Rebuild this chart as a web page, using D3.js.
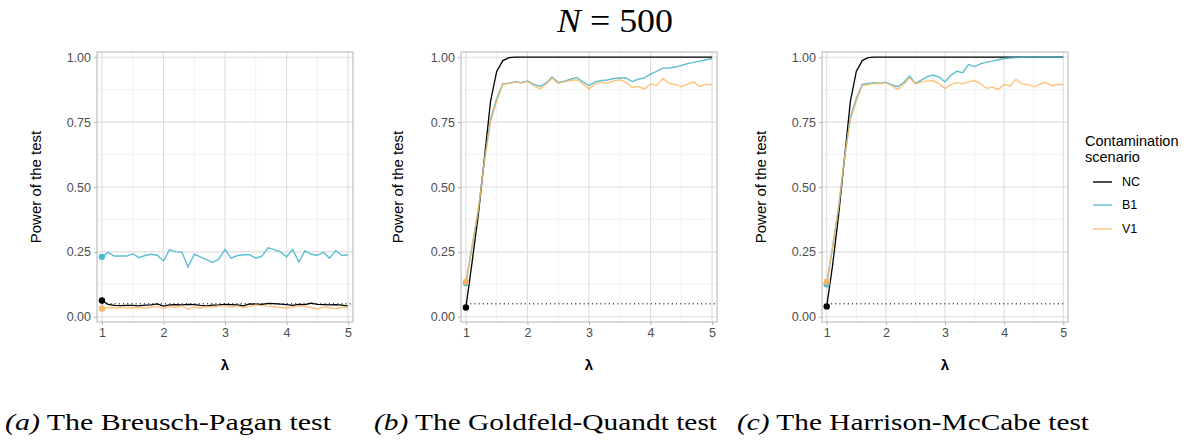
<!DOCTYPE html>
<html>
<head>
<meta charset="utf-8">
<script src="https://cdn.jsdelivr.net/npm/d3@7"></script>
<style>
  body { margin: 0; background: #fff; }
  svg { display: block; }
</style>
</head>
<body>
<div id="chart"></div>
<script>
// lambda grid
var lambda = [1.0,1.1,1.2,1.3,1.4,1.5,1.6,1.7,1.8,1.9,2.0,2.1,2.2,2.3,2.4,2.5,2.6,2.7,2.8,2.9,3.0,
              3.1,3.2,3.3,3.4,3.5,3.6,3.7,3.8,3.9,4.0,4.1,4.2,4.3,4.4,4.5,4.6,4.7,4.8,4.9,5.0];

var scenarios = ["NC", "B1", "V1"];
var xTicks = [1, 2, 3, 4, 5];
var yTicks = [0, 0.25, 0.5, 0.75, 1];
var alpha = 0.05;

// (a) Breusch-Pagan
var bpNC = [0.063,0.048,0.044,0.043,0.044,0.044,0.042,0.045,0.046,0.050,0.041,0.046,0.047,0.046,0.048,0.047,0.044,0.042,0.045,0.046,
            0.048,0.047,0.046,0.042,0.050,0.049,0.048,0.052,0.051,0.049,0.047,0.044,0.048,0.047,0.053,0.048,0.047,0.046,0.047,0.045,0.041];
var bpB1 = [0.231,0.248,0.234,0.234,0.234,0.243,0.228,0.236,0.241,0.237,0.215,0.259,0.250,0.249,0.192,0.241,0.231,0.220,0.209,0.223,
            0.259,0.226,0.236,0.239,0.239,0.226,0.234,0.266,0.259,0.250,0.231,0.259,0.211,0.254,0.241,0.237,0.248,0.226,0.255,0.236,0.239];
var bpV1 = [0.032,0.036,0.035,0.035,0.036,0.035,0.036,0.034,0.037,0.040,0.031,0.040,0.036,0.042,0.030,0.038,0.033,0.040,0.038,0.041,
            0.043,0.037,0.042,0.035,0.040,0.046,0.043,0.041,0.039,0.036,0.033,0.038,0.042,0.040,0.036,0.030,0.038,0.035,0.031,0.037,0.038];

// (b) Goldfeld-Quandt
var gqNC = [0.036,0.21,0.39,0.61,0.83,0.945,0.987,0.998,1,1,1,1,1,1,1,1,1,1,1,1,
            1,1,1,1,1,1,1,1,1,1,1,1,1,1,1,1,1,1,1,1,1];
var gqB1 = [0.13,0.27,0.41,0.60,0.76,0.84,0.898,0.900,0.906,0.902,0.908,0.895,0.888,0.900,0.924,0.902,0.908,0.915,0.922,0.905,
            0.890,0.905,0.910,0.912,0.918,0.920,0.920,0.906,0.915,0.920,0.935,0.945,0.958,0.958,0.962,0.968,0.975,0.980,0.985,0.990,0.995];
var gqV1 = [0.135,0.27,0.41,0.60,0.752,0.83,0.896,0.898,0.904,0.900,0.907,0.891,0.878,0.896,0.919,0.900,0.905,0.910,0.913,0.896,
            0.878,0.896,0.904,0.900,0.909,0.913,0.904,0.884,0.887,0.878,0.897,0.891,0.918,0.900,0.895,0.886,0.896,0.905,0.887,0.895,0.895];

// (c) Harrison-McCabe
var hmNC = [0.04,0.20,0.39,0.61,0.83,0.945,0.987,0.998,1,1,1,1,1,1,1,1,1,1,1,1,
            1,1,1,1,1,1,1,1,1,1,1,1,1,1,1,1,1,1,1,1,1];
var hmB1 = [0.125,0.27,0.42,0.61,0.77,0.84,0.895,0.899,0.902,0.900,0.904,0.893,0.886,0.902,0.927,0.899,0.912,0.925,0.931,0.923,
            0.905,0.930,0.946,0.940,0.972,0.964,0.974,0.981,0.985,0.990,0.995,0.997,0.999,1,1,1,1,1,1,1,1];
var hmV1 = [0.135,0.27,0.42,0.61,0.76,0.83,0.891,0.894,0.899,0.898,0.902,0.889,0.876,0.895,0.921,0.898,0.905,0.908,0.910,0.898,
            0.879,0.895,0.902,0.898,0.905,0.910,0.898,0.880,0.885,0.876,0.895,0.889,0.914,0.898,0.895,0.885,0.895,0.903,0.890,0.895,0.895];

var captions = ["The Breusch-Pagan test", "The Goldfeld-Quandt test", "The Harrison-McCabe test"];
var captionTags = ["(a)", "(b)", "(c)"];

var colors = { NC: "#000000", B1: "#3fb3c8", V1: "#fdb45c" };
var opac = { NC: 1, B1: 0.85, V1: 0.8 };

var W = 1196, H = 441;
var svg = d3.select('#chart').append('svg')
  .attr('width', W).attr('height', H)
  .style('font-family', '"Liberation Sans", Arial, sans-serif');
svg.append('rect').attr('width', W).attr('height', H).attr('fill', '#fff');

// panel boxes
var panels = [
  { x0: 97, x1: 353, series: { NC: bpNC, B1: bpB1, V1: bpV1 }, ylab: 36, capX: 5, capW: 326 },
  { x0: 461, x1: 717, series: { NC: gqNC, B1: gqB1, V1: gqV1 }, ylab: 398, capX: 374, capW: 343 },
  { x0: 822, x1: 1068, series: { NC: hmNC, B1: hmB1, V1: hmV1 }, ylab: 761, capX: 737, capW: 352 }
];
var plotTop = 52, plotBottom = 322;

panels.forEach(function(p, i) {
  var x = d3.scaleLinear().domain([0.92, 5.08]).range([p.x0, p.x1]);
  var y = d3.scaleLinear().domain([-0.02, 1.02]).range([plotBottom, plotTop]);
  var g = svg.append('g');

  // minor grid
  g.selectAll('.vminor').data([1.5, 2.5, 3.5, 4.5]).enter().append('line')
    .attr('x1', function(d) { return x(d); }).attr('x2', function(d) { return x(d); })
    .attr('y1', plotTop).attr('y2', plotBottom)
    .attr('stroke', '#ececec').attr('stroke-width', 0.7);
  g.selectAll('.hminor').data([0.125, 0.375, 0.625, 0.875]).enter().append('line')
    .attr('y1', function(d) { return y(d); }).attr('y2', function(d) { return y(d); })
    .attr('x1', p.x0).attr('x2', p.x1)
    .attr('stroke', '#ececec').attr('stroke-width', 0.7);
  // major grid
  g.selectAll('.vmajor').data(xTicks).enter().append('line')
    .attr('x1', function(d) { return x(d); }).attr('x2', function(d) { return x(d); })
    .attr('y1', plotTop).attr('y2', plotBottom)
    .attr('stroke', '#dedede').attr('stroke-width', 1.1);
  g.selectAll('.hmajor').data(yTicks).enter().append('line')
    .attr('y1', function(d) { return y(d); }).attr('y2', function(d) { return y(d); })
    .attr('x1', p.x0).attr('x2', p.x1)
    .attr('stroke', '#dedede').attr('stroke-width', 1.1);

  // alpha reference line
  g.append('line')
    .attr('x1', x(1)).attr('x2', x(5.05))
    .attr('y1', y(alpha)).attr('y2', y(alpha))
    .attr('stroke', '#000').attr('stroke-width', 1)
    .attr('stroke-dasharray', '1.2,3');

  var line = d3.line()
    .x(function(d, k) { return x(lambda[k]); })
    .y(function(d) { return y(d); });

  scenarios.forEach(function(s) {
    g.append('path').datum(p.series[s])
      .attr('d', line)
      .attr('fill', 'none')
      .attr('stroke', colors[s])
      .attr('stroke-opacity', opac[s])
      .attr('stroke-width', s === 'NC' ? 1.3 : 1.4);
  });
  scenarios.forEach(function(s) {
    g.append('circle')
      .attr('cx', x(lambda[0])).attr('cy', y(p.series[s][0]))
      .attr('r', 3.2).attr('fill', colors[s]).attr('fill-opacity', s === 'NC' ? 1 : 0.9);
  });

  // border
  g.append('rect')
    .attr('x', p.x0).attr('y', plotTop)
    .attr('width', p.x1 - p.x0).attr('height', plotBottom - plotTop)
    .attr('fill', 'none').attr('stroke', '#b3b3b3').attr('stroke-width', 1);

  // axes
  var xa = g.append('g').attr('transform', 'translate(0,' + plotBottom + ')')
    .call(d3.axisBottom(x).tickValues(xTicks).tickSize(3).tickPadding(3).tickFormat(d3.format('d')));
  var ya = g.append('g').attr('transform', 'translate(' + p.x0 + ',0)')
    .call(d3.axisLeft(y).tickValues(yTicks).tickSize(3).tickPadding(3).tickFormat(d3.format('.2f')));
  [xa, ya].forEach(function(a) {
    a.select('.domain').remove();
    a.selectAll('.tick line').attr('stroke', '#b3b3b3');
    a.selectAll('.tick text').attr('fill', '#4d4d4d')
      .style('font-size', '12.5px').style('font-family', '"Liberation Sans", Arial, sans-serif');
  });

  // axis titles
  g.append('text')
    .attr('x', (x(1) + x(5)) / 2).attr('y', 370)
    .attr('text-anchor', 'middle')
    .style('font-size', '15px').style('font-weight', 'bold')
    .text('λ');
  g.append('text')
    .attr('transform', 'translate(' + (p.ylab + 5) + ',' + ((plotTop + plotBottom) / 2) + ') rotate(-90)')
    .attr('text-anchor', 'middle')
    .style('font-size', '15px')
    .text('Power of the test');

  // caption
  var cap = svg.append('text')
    .attr('x', p.capX).attr('y', 430)
    .attr('textLength', p.capW).attr('lengthAdjust', 'spacingAndGlyphs')
    .style('font-family', '"Liberation Serif", "Times New Roman", serif')
    .style('font-size', '23px');
  cap.append('tspan').style('font-style', 'italic').text(captionTags[i]);
  cap.append('tspan').text(' ' + captions[i]);
});

// title
var title = svg.append('text')
  .attr('x', 557).attr('y', 32)
  .attr('textLength', 116).attr('lengthAdjust', 'spacingAndGlyphs')
  .style('font-family', '"Liberation Serif", "Times New Roman", serif')
  .style('font-size', '34px');
title.append('tspan').style('font-style', 'italic').text('N');
title.append('tspan').text(' = 500');

// legend
var leg = svg.append('g').attr('transform', 'translate(1085,0)');
leg.append('text').attr('x', 0).attr('y', 146).style('font-size', '14.5px').text('Contamination');
leg.append('text').attr('x', 0).attr('y', 162).style('font-size', '14.5px').text('scenario');
var legY = [182, 205, 229];
scenarios.forEach(function(s, k) {
  leg.append('line')
    .attr('x1', 8).attr('x2', 27).attr('y1', legY[k]).attr('y2', legY[k])
    .attr('stroke', colors[s]).attr('stroke-opacity', opac[s]).attr('stroke-width', 1.4);
  leg.append('text')
    .attr('x', 37).attr('y', legY[k]).attr('dy', '0.35em')
    .style('font-size', '12.5px').text(s);
});
</script>
</body>
</html>
